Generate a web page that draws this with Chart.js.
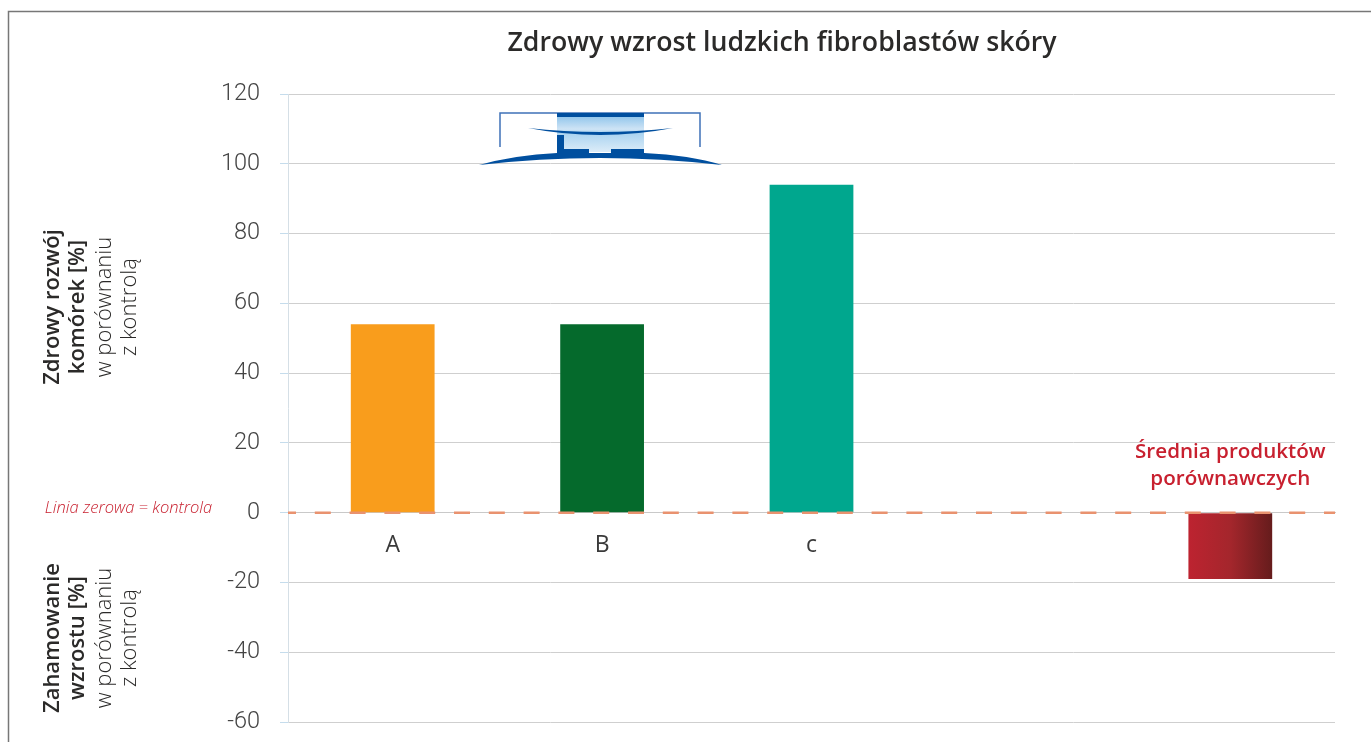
<!DOCTYPE html>
<html>
<head>
<meta charset="utf-8">
<title>Zdrowy wzrost ludzkich fibroblastów skóry</title>
<script src="https://cdn.jsdelivr.net/npm/chart.js@4"></script>
<style>
  html, body { margin: 0; padding: 0; background: #fff; overflow: hidden; }
  #wrap { position: absolute; left: 0; top: 0; width: 1371px; height: 742px; }
  canvas { display: block; }
</style>
</head>
<body>
<div id="wrap"><canvas id="wzrostChart" width="1371" height="742"></canvas></div>
<script>
const categories = ['A', 'B', 'c', '', ''];
const values = [54, 54, 94, null, -19];
const barColors = ['#f99d1c', '#056a2c', '#00a78e', '#ffffff', '#b3222e'];
const yTicks = [120, 100, 80, 60, 40, 20, 0, -20, -40, -60];

const titleText = 'Zdrowy wzrost ludzkich fibroblastów skóry';
const zeroLabel = 'Linia zerowa = kontrola';
const averageLabel = ['Średnia produktów', 'porównawczych'];
const upperAxisBold = ['Zdrowy rozwój', 'komórek [%]'];
const lowerAxisBold = ['Zahamowanie', 'wzrostu [%]'];
const axisNormal = ['w porównaniu', 'z kontrolą'];

const sansFont = '"Open Sans", "Noto Sans", sans-serif';

function rotatedText(ctx, text, x, y, font, color) {
  ctx.save();
  ctx.translate(x, y);
  ctx.rotate(-Math.PI / 2);
  ctx.font = font;
  ctx.fillStyle = color;
  ctx.textAlign = 'center';
  ctx.textBaseline = 'middle';
  ctx.fillText(text, 0, 0);
  ctx.restore();
}

// logo nad slupkami (ramka, gradient, podstawa)
function drawLogo(ctx) {
  ctx.save();
  const grad = ctx.createLinearGradient(0, 114, 0, 152);
  grad.addColorStop(0, '#86c0ea');
  grad.addColorStop(0.4, '#cfe4f5');
  grad.addColorStop(0.5, '#a9d3f0');
  grad.addColorStop(1, '#dcecf8');
  ctx.fillStyle = grad;
  ctx.fillRect(557, 114, 87, 38);

  ctx.strokeStyle = '#3f72b8';
  ctx.lineWidth = 1.5;
  ctx.beginPath();
  ctx.moveTo(500, 147);
  ctx.lineTo(500, 113);
  ctx.lineTo(700, 113);
  ctx.lineTo(700, 147);
  ctx.stroke();

  ctx.fillStyle = '#004f9f';
  ctx.fillRect(557, 113, 87, 4);

  // soczewka
  ctx.beginPath();
  ctx.moveTo(528, 128);
  ctx.quadraticCurveTo(600, 142, 673, 128);
  ctx.quadraticCurveTo(600, 136, 528, 128);
  ctx.fill();

  // noga i podstawa
  ctx.beginPath();
  ctx.moveTo(557, 135);
  ctx.lineTo(564, 135);
  ctx.lineTo(564, 149);
  ctx.lineTo(589, 149);
  ctx.lineTo(589, 153);
  ctx.lineTo(611, 153);
  ctx.lineTo(611, 149);
  ctx.lineTo(644, 149);
  ctx.lineTo(644, 153);
  ctx.quadraticCurveTo(690, 155, 722, 165);
  ctx.quadraticCurveTo(660, 158, 600, 158);
  ctx.quadraticCurveTo(540, 158, 479, 165);
  ctx.quadraticCurveTo(515, 155, 557, 153);
  ctx.closePath();
  ctx.fill();
  ctx.restore();
}

const annotations = {
  id: 'annotations',
  // linia zerowa nad slupkami
  afterDatasetsDraw(chart) {
    const { ctx, scales } = chart;
    const y0 = scales.y.getPixelForValue(0);

    ctx.save();
    ctx.strokeStyle = '#e9926f';
    ctx.lineWidth = 2.5;
    ctx.setLineDash([16, 18.8]);
    ctx.lineDashOffset = 8;
    ctx.beginPath();
    ctx.moveTo(scales.x.left, y0);
    ctx.lineTo(scales.x.right, y0);
    ctx.stroke();
    ctx.restore();
  },
  afterDraw(chart) {
    const { ctx, scales } = chart;

    ctx.save();
    ctx.strokeStyle = '#777777';
    ctx.lineWidth = 1.5;
    ctx.beginPath();
    ctx.moveTo(8.5, 742);
    ctx.lineTo(8.5, 11.5);
    ctx.lineTo(1371, 11.5);
    ctx.stroke();

    ctx.fillStyle = '#2b2a29';
    ctx.font = '600 26.7px ' + sansFont;
    ctx.textAlign = 'center';
    ctx.textBaseline = 'middle';
    ctx.fillText(titleText, 782, 43);

    ctx.fillStyle = '#c8202f';
    ctx.font = 'italic 300 16.5px ' + sansFont;
    ctx.fillText(zeroLabel, 128.5, 508);

    const xAvg = scales.x.getPixelForValue(4);
    ctx.font = '600 20.6px ' + sansFont;
    ctx.fillText(averageLabel[0], xAvg, 452);
    ctx.fillText(averageLabel[1], xAvg, 479);
    ctx.restore();

    const bold = '600 22px ' + sansFont;
    const normal = '300 22px ' + sansFont;
    rotatedText(ctx, upperAxisBold[0], 53, 307, bold, '#2b2a29');
    rotatedText(ctx, upperAxisBold[1], 78, 307, bold, '#2b2a29');
    rotatedText(ctx, axisNormal[0], 105, 307, normal, '#2b2a29');
    rotatedText(ctx, axisNormal[1], 130, 307, normal, '#2b2a29');
    rotatedText(ctx, lowerAxisBold[0], 53, 638, bold, '#2b2a29');
    rotatedText(ctx, lowerAxisBold[1], 78, 638, bold, '#2b2a29');
    rotatedText(ctx, axisNormal[0], 105, 638, normal, '#2b2a29');
    rotatedText(ctx, axisNormal[1], 130, 638, normal, '#2b2a29');

    drawLogo(ctx);
  }
};

const ctx = document.getElementById('wzrostChart').getContext('2d');
new Chart(ctx, {
  type: 'bar',
  plugins: [annotations],
  data: {
    labels: categories,
    datasets: [{
      data: values,
      backgroundColor: function (context) {
        const i = context.dataIndex;
        const xScale = context.chart.scales.x;
        // ostatni slupek ma gradient poziomy
        if (i === 4 && xScale) {
          const cx = xScale.getPixelForValue(4);
          if (Number.isFinite(cx)) {
            const g = context.chart.ctx.createLinearGradient(cx - 42, 0, cx + 42, 0);
            g.addColorStop(0, '#bd2330');
            g.addColorStop(0.5, '#a4262c');
            g.addColorStop(1, '#651c1c');
            return g;
          }
        }
        return barColors[i];
      },
      borderWidth: 0,
      barPercentage: 0.4,
      categoryPercentage: 1
    }]
  },
  options: {
    responsive: false,
    animation: false,
    layout: { autoPadding: false, padding: { left: 0, right: 36, top: 94, bottom: 20 } },
    plugins: {
      legend: { display: false },
      tooltip: { enabled: false },
      title: { display: false }
    },
    scales: {
      x: {
        position: { y: 0 },
        afterFit(axis) {
          axis.height = 0;
        },
        grid: { display: false },
        border: { color: '#c9c9c9', width: 1 },
        ticks: {
          color: '#3a3a3a',
          font: { family: sansFont, size: 23, weight: '400' },
          padding: 11,
          maxRotation: 0
        }
      },
      y: {
        min: -60,
        max: 120,
        afterFit(axis) {
          axis.width = 288;
          // bez tego etykiety zjadaja dolny margines
          axis.paddingTop = 0;
          axis.paddingBottom = 0;
        },
        afterBuildTicks(axis) {
          axis.ticks = yTicks.map(v => ({ value: v }));
        },
        grid: {
          color: '#cfcfcf',
          lineWidth: 1,
          tickColor: '#c5dcec',
          tickLength: 8
        },
        border: { color: '#d5dfe6', width: 1 },
        ticks: {
          color: '#444444',
          font: { family: 'Roboto', size: 23.5, weight: '300' },
          padding: 20
        }
      }
    }
  }
});
</script>
</body>
</html>
